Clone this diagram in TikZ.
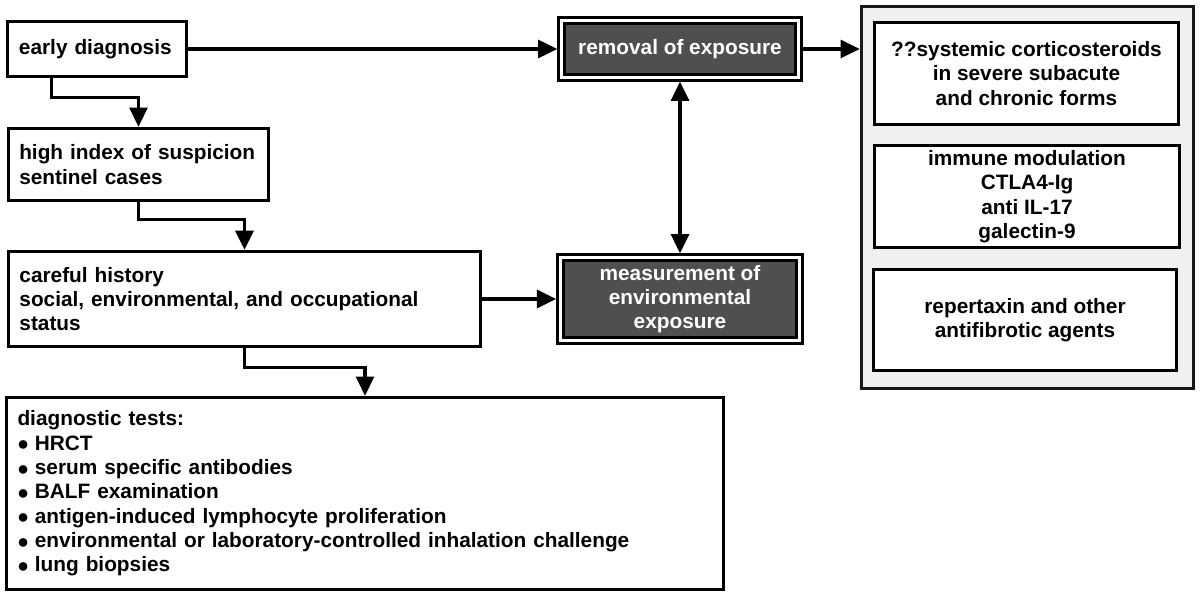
\documentclass[tikz,border=0pt]{standalone}
\usepackage{fontspec}
\setmainfont{Liberation Sans}
\usepackage{graphicx}
\usepackage{tikz}
\usetikzlibrary{shapes,arrows.meta,calc}
\definecolor{darkfill}{HTML}{4F4F4F}
\definecolor{panelfill}{HTML}{F0F0F0}
\tikzstyle{leftbox} = [rectangle, sharp corners, draw, line width=2.2pt,
                      fill=white, align=left, inner xsep=0.28cm, inner ysep=0pt,
                      font=\bfseries\fontsize{14.8}{17.3}\selectfont]
\tikzstyle{treatbox} = [rectangle, sharp corners, draw, line width=2.2pt,
                       fill=white, align=center, inner sep=0pt,
                       font=\bfseries\fontsize{14.8}{17.3}\selectfont]
\tikzstyle{darkbox} = [rectangle, sharp corners, draw=black, line width=2.2pt,
                      double=white, double distance=2pt, outer sep=3.2pt,
                      fill=darkfill, text=white, align=center, inner sep=0pt,
                      font=\bfseries\fontsize{14.8}{17.3}\selectfont]
\newcommand{\testitem}{\raisebox{-0.03em}{\scalebox{1.1}{$\bullet$}}\hspace{0.3em}}

\begin{document}
\begin{tikzpicture}[x=0.025cm, y=-0.025cm,
arr/.style={line width=2.2pt, -{Triangle[length=0.48cm, width=0.45cm]}},
dblarr/.style={line width=2.2pt, {Triangle[length=0.48cm, width=0.45cm]}-{Triangle[length=0.48cm, width=0.45cm]}},
panel/.style={rectangle, draw=black!90, line width=2.2pt, fill=panelfill, inner sep=0pt}]
\useasboundingbox (0,0) rectangle (1200,597);

% Diagnosis chain
\node[leftbox, text width=3.9cm, minimum height=1.38cm] at (97,49) (early) {early diagnosis};
\node[leftbox, text width=5.96cm, minimum height=1.81cm] at (138.5,164.5) (susp)
  {high index of suspicion\\sentinel cases};
\node[leftbox, text width=11.25cm, minimum height=2.38cm] at (244.5,299) (hist)
  {careful history\\social, environmental, and occupational\\status};
\node[leftbox, text width=17.37cm, minimum height=4.81cm] at (365,493.5) (tests)
  {diagnostic tests:\\
   \testitem HRCT\\
   \testitem serum specific antibodies\\
   \testitem BALF examination\\
   \testitem antigen-induced lymphocyte proliferation\\
   \testitem environmental or laboratory-controlled inhalation challenge\\
   \testitem lung biopsies};

% Exposure
\node[darkbox, minimum width=5.91cm, minimum height=1.41cm] at (680,49) (removal)
  {removal of exposure};
\node[darkbox, minimum width=5.97cm, minimum height=2.06cm] at (680,299) (measure)
  {measurement of\\environmental\\exposure};

% Treatment
\node[panel, minimum width=8.31cm, minimum height=9.56cm] at (1027.5,197.5) (treat) {};
\node[treatbox, minimum width=7.61cm, minimum height=2.56cm] at (1026.5,73.5) (cort)
  {??systemic corticosteroids\\in severe subacute\\and chronic forms};
\node[treatbox, minimum width=7.63cm, minimum height=2.56cm] at (1027,196.5) (immune)
  {immune modulation\\CTLA4-Ig\\anti IL-17\\galectin-9};
\node[treatbox, minimum width=7.58cm, minimum height=2.53cm] at (1025,320) (rep)
  {repertaxin and other\\antifibrotic agents};

% Arrows
\draw[arr] ($(early.south west)+(45,0)$) -- ++(0,19) -| (susp.north);
\draw[arr] (susp.south) -- ++(0,17) -| (hist.north);
\draw[arr] (hist.south) -- ++(0,19) -| (tests.north);
\draw[arr] (early) -- (removal);
\draw[arr] (hist) -- (measure);
\draw[arr] (removal.east) -- (removal.east -| treat.west);
\draw[dblarr] (removal) -- (measure);
\end{tikzpicture}
\end{document}
